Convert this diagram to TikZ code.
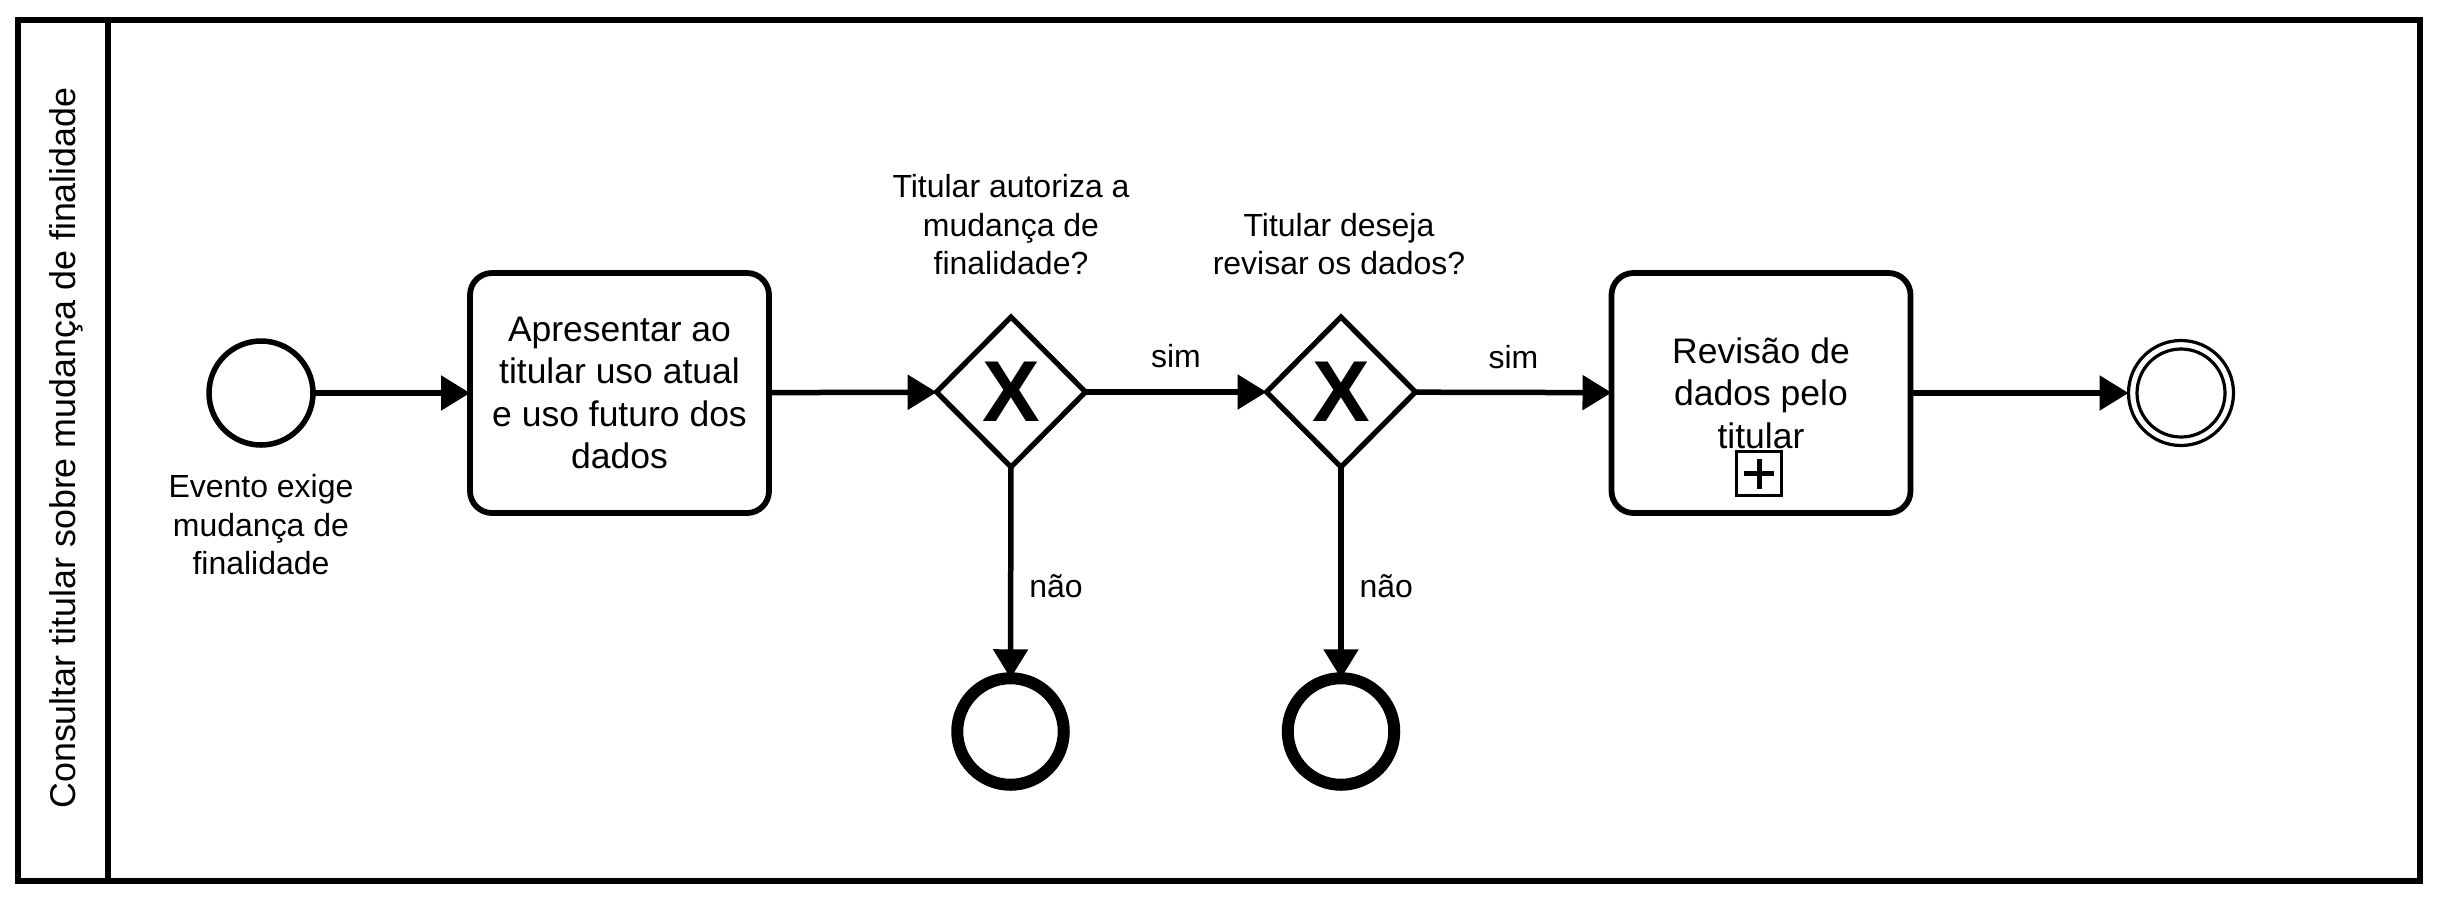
\documentclass[tikz,border=0pt]{standalone}
\usepackage{fontspec}
\setmainfont{Liberation Sans}
\usetikzlibrary{arrows.meta,shapes.geometric,calc}
\begin{document}
\begin{tikzpicture}[
  every node/.style={inner sep=0pt, outer sep=0pt},
  lanebox/.style={line width=0.055cm},
  startev/.style={circle, draw, line width=0.055cm, minimum size=1.04cm},
  endev/.style={circle, draw, line width=0.12cm, minimum size=1.065cm},
  dblev/.style={circle, draw, line width=0.032cm, minimum size=1.05cm},
  taskbox/.style={rectangle, rounded corners=0.22cm, draw, line width=0.058cm,
    minimum width=2.99cm, minimum height=2.40cm, align=center,
    font=\fontsize{10.1}{12.1}\selectfont},
  gate/.style={diamond, draw, line width=0.052cm, minimum width=1.49cm,
    minimum height=1.50cm, font=\fontsize{24.6}{24.6}\selectfont\bfseries},
  lbl/.style={align=center, font=\fontsize{9.1}{10.9}\selectfont},
  flow/.style={line width=0.055cm, -{Triangle[length=0.29cm,width=0.34cm]}},
]
\useasboundingbox (0,0) rectangle (24.39,-9);
% pool / lane
\draw[lanebox] (0.179,-0.20) rectangle (24.20,-8.81);
\draw[lanebox] (1.08,-0.20) -- (1.08,-8.81);
\node[rotate=90, anchor=base, font=\fontsize{10.2}{12}\selectfont] (lane) at (0.755,-4.48)
  {Consultar titular sobre mudança de finalidade};

% nodes
\node[startev] (s) at (2.61,-3.93) {};
\node[lbl] (slbl) at (2.61,-5.246) {Evento exige\\mudança de\\finalidade};
\node[taskbox] (t1) at (6.195,-3.93) {Apresentar ao\\titular uso atual\\e uso futuro dos\\dados};
\node[gate] (g1) at (10.11,-3.92) {X};
\node[lbl] (g1lbl) at (10.11,-2.248) {Titular autoriza a\\mudança de\\finalidade?};
\node[gate] (g2) at (13.41,-3.92) {X};
\node[lbl] (g2lbl) at (13.39,-2.443) {Titular deseja\\revisar os dados?};
\node[endev] (e1) at (10.105,-7.315) {};
\node[endev] (e2) at (13.41,-7.315) {};
\node[taskbox] (t2) at (17.61,-3.93) {Revisão de\\dados pelo\\titular};
\node[draw, line width=0.027cm, minimum width=0.45cm, minimum height=0.44cm]
  (t2mk) at ($(t2.center)+(-0.02,-0.808)$) {};
\draw[line width=0.05cm] ($(t2mk.center)+(-0.147,0)$) -- ($(t2mk.center)+(0.147,0)$);
\draw[line width=0.05cm] ($(t2mk.center)+(0,-0.15)$) -- ($(t2mk.center)+(0,0.15)$);
\node[dblev] (e3) at (21.81,-3.93) {};
\draw[line width=0.032cm] (e3.center) circle (0.44cm);

% flows
\draw[flow] (s) -- (t1);
\draw[flow] (t1) -- (g1);
\draw[flow] (g1) -- node[lbl, anchor=base, yshift=0.244cm] (sim1) {sim} (g2);
\draw[flow] (g2) -- node[lbl, anchor=base, yshift=0.244cm] (sim2) {sim} (t2);
\draw[flow] (g1) -- node[lbl, anchor=base west, xshift=0.186cm, yshift=-0.253cm] (nao1) {não} (e1);
\draw[flow] (g2) -- node[lbl, anchor=base west, xshift=0.186cm, yshift=-0.253cm] (nao2) {não} (e2);
\draw[flow] (t2) -- (e3);
\end{tikzpicture}
\end{document}
